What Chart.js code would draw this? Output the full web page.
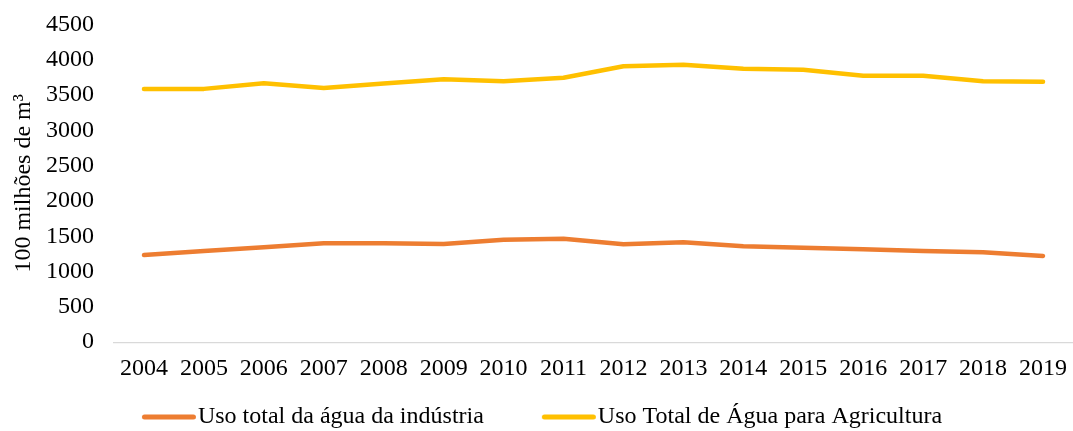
<!DOCTYPE html>
<html>
<head>
<meta charset="utf-8">
<script src="https://cdn.jsdelivr.net/npm/chart.js@4/dist/chart.umd.min.js"></script>
<style>
  html, body { margin: 0; padding: 0; background: #ffffff; }
  #wrap { width: 1073px; height: 431px; }
</style>
</head>
<body>
<div id="wrap"><canvas id="c" width="1073" height="431"></canvas></div>
<script>
const years = ['2004','2005','2006','2007','2008','2009','2010','2011','2012','2013','2014','2015','2016','2017','2018','2019'];
const industria = [1235, 1291, 1345, 1401, 1401, 1391, 1452, 1466, 1387, 1415, 1359, 1339, 1316, 1292, 1273, 1221];
const agricultura = [3587, 3587, 3667, 3601, 3663, 3724, 3695, 3744, 3908, 3928, 3871, 3857, 3772, 3772, 3695, 3687];
const seriesNames = ['Uso total da água da indústria', 'Uso Total de Água para Agricultura'];
const seriesColors = ['#ED7D31', '#FFC000'];
const yTitle = '100 milhões de m³';

function legendLine(color) {
  const c = document.createElement('canvas');
  c.width = 120; c.height = 10;
  const g = c.getContext('2d');
  g.strokeStyle = color; g.lineWidth = 5; g.lineCap = 'round';
  // canvas centre (x=60) sits at the legend box centre; sample drawn just left of the text
  g.beginPath(); g.moveTo(59.5, 5); g.lineTo(108.5, 5); g.stroke();
  return c;
}
const legendImgs = seriesColors.map(legendLine);

const FONT = { family: '"Liberation Serif", "Times New Roman", serif', size: 24 };

new Chart(document.getElementById('c'), {
  type: 'line',
  data: {
    labels: years,
    datasets: [
      { label: seriesNames[0], data: industria, borderColor: seriesColors[0], backgroundColor: seriesColors[0],
        borderWidth: 4.5, pointRadius: 0, tension: 0, borderCapStyle: 'round', borderJoinStyle: 'round' },
      { label: seriesNames[1], data: agricultura, borderColor: seriesColors[1], backgroundColor: seriesColors[1],
        borderWidth: 4.5, pointRadius: 0, tension: 0, borderCapStyle: 'round', borderJoinStyle: 'round' }
    ]
  },
  options: {
    responsive: false,
    animation: false,
    devicePixelRatio: 1,
    layout: { padding: { left: -27, right: 0, top: 15, bottom: -8 } },
    plugins: {
      tooltip: { enabled: false },
      legend: {
        position: 'bottom',
        align: 'center',
        labels: {
          font: FONT,
          color: '#000000',
          usePointStyle: true,
          pointStyleWidth: 82,
          padding: 20,
          generateLabels: (chart) => {
            const items = Chart.defaults.plugins.legend.labels.generateLabels(chart);
            items.forEach((it, i) => { it.pointStyle = legendImgs[i]; });
            return items;
          }
        }
      }
    },
    scales: {
      x: {
        offset: true,
        grid: { display: false, drawTicks: true, tickLength: 10 },
        border: { display: true, color: '#D9D9D9', width: 1.3 },
        ticks: { font: FONT, color: '#000000', padding: 2, maxRotation: 0, autoSkip: false }
      },
      y: {
        min: 0, max: 4500,
        grid: { display: false, drawTicks: true, tickLength: 10 },
        border: { display: false },
        ticks: { stepSize: 500, font: FONT, color: '#000000', padding: 10,
                 callback: (v) => String(v) },
        title: { display: true, text: yTitle, font: FONT, color: '#000000', padding: { top: 36.6, bottom: -2.4 } }
      }
    }
  }
});
</script>
</body>
</html>
